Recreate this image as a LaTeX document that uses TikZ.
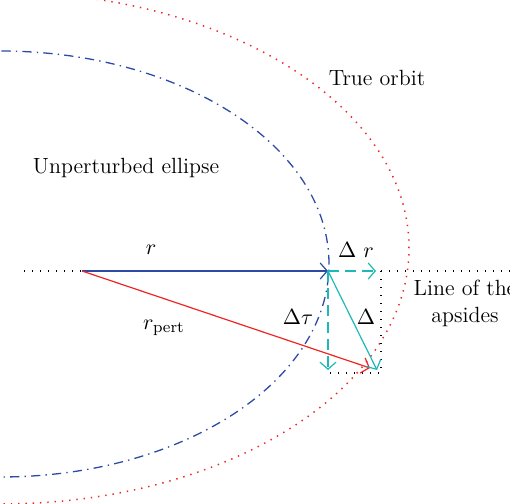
\documentclass[tikz,border=0pt]{standalone}
\usepackage{tikz}
\usetikzlibrary{arrows.meta,positioning}

\definecolor{orbitblue}{RGB}{44,74,166}
\definecolor{orbitred}{RGB}{240,36,36}
\definecolor{devcyan}{RGB}{30,184,184}

\tikzset{
  vec/.style={semithick,-{Straight Barb[length=3.5pt,width=8pt]}},
  lbl/.style={font=\fontsize{11}{13.5}\selectfont,inner sep=0pt},
  apsline/.style={black,line width=0.7pt,dash pattern=on 0.7pt off 3.3pt},
  unpert/.style={orbitblue,line width=0.65pt,dash pattern=on 4.6pt off 2.6pt on 0.7pt off 2.6pt},
  trueorb/.style={orbitred,line width=0.75pt,dash pattern=on 0.7pt off 2.95pt},
}

\begin{document}
\begin{tikzpicture}[x=0.5pt,y=-0.5pt]
    \useasboundingbox (0,0) rectangle (510,504);

    % the two orbits, cut by the frame
    \begin{scope}
        \clip (0,0) rectangle (510,504);
        \draw[unpert] (0,264) ellipse [x radius=164.5pt, y radius=106.5pt];
        \draw[trueorb] (0,248) ellipse [x radius=204.5pt, y radius=128pt];
    \end{scope}

    % points
    \coordinate (W) at (24,271);
    \coordinate (F) at (82,271);
    \coordinate (P) at (328,271);
    \coordinate (Pr) at (376,271);
    \coordinate (C) at (381,271);
    \coordinate (E) at (510,271);
    \coordinate (D) at (381,373);
    \coordinate (B) at (328,373);
    \coordinate (Pt) at (328,370);
    \coordinate (Q) at (377,370);
    \coordinate (Qr) at (370,368);

    % line of the apsides and the box
    \draw[apsline] (W) -- (F);
    \draw[apsline] (C) -- (E);
    \draw[apsline] (C) -- (D) -- (B);

    % position vectors
    \draw[vec,orbitblue] (F) -- (P);
    \draw[vec,orbitred] (F) -- (Qr);

    % deviations
    \draw[vec,devcyan,dash pattern=on 5.5pt off 3pt] (P) -- (Pr);
    \draw[vec,devcyan,dash pattern=on 5.5pt off 3pt] (P) -- (Pt);
    \draw[vec,devcyan] (P) -- (Q);

    % labels
    \node[lbl] (ellLab) at (126,168) {Unperturbed ellipse};
    \node[lbl] (orbLab) at (377,78) {True orbit};
    \node[lbl] (rLab) at (151,250) {$r$};
    \node[lbl] (rpLab) at (164,328) {$r_{\mathrm{pert}}$};
    \node[lbl] (drLab) at (356,250) {$\Delta\ r$};
    \node[lbl] (dtLab) at (298,317) {$\Delta\tau$};
    \node[lbl] (dLab) at (366,317) {$\Delta$};
    \node[lbl,align=center] (apsLab) at (465,303) {Line of the\\apsides};
\end{tikzpicture}
\end{document}
